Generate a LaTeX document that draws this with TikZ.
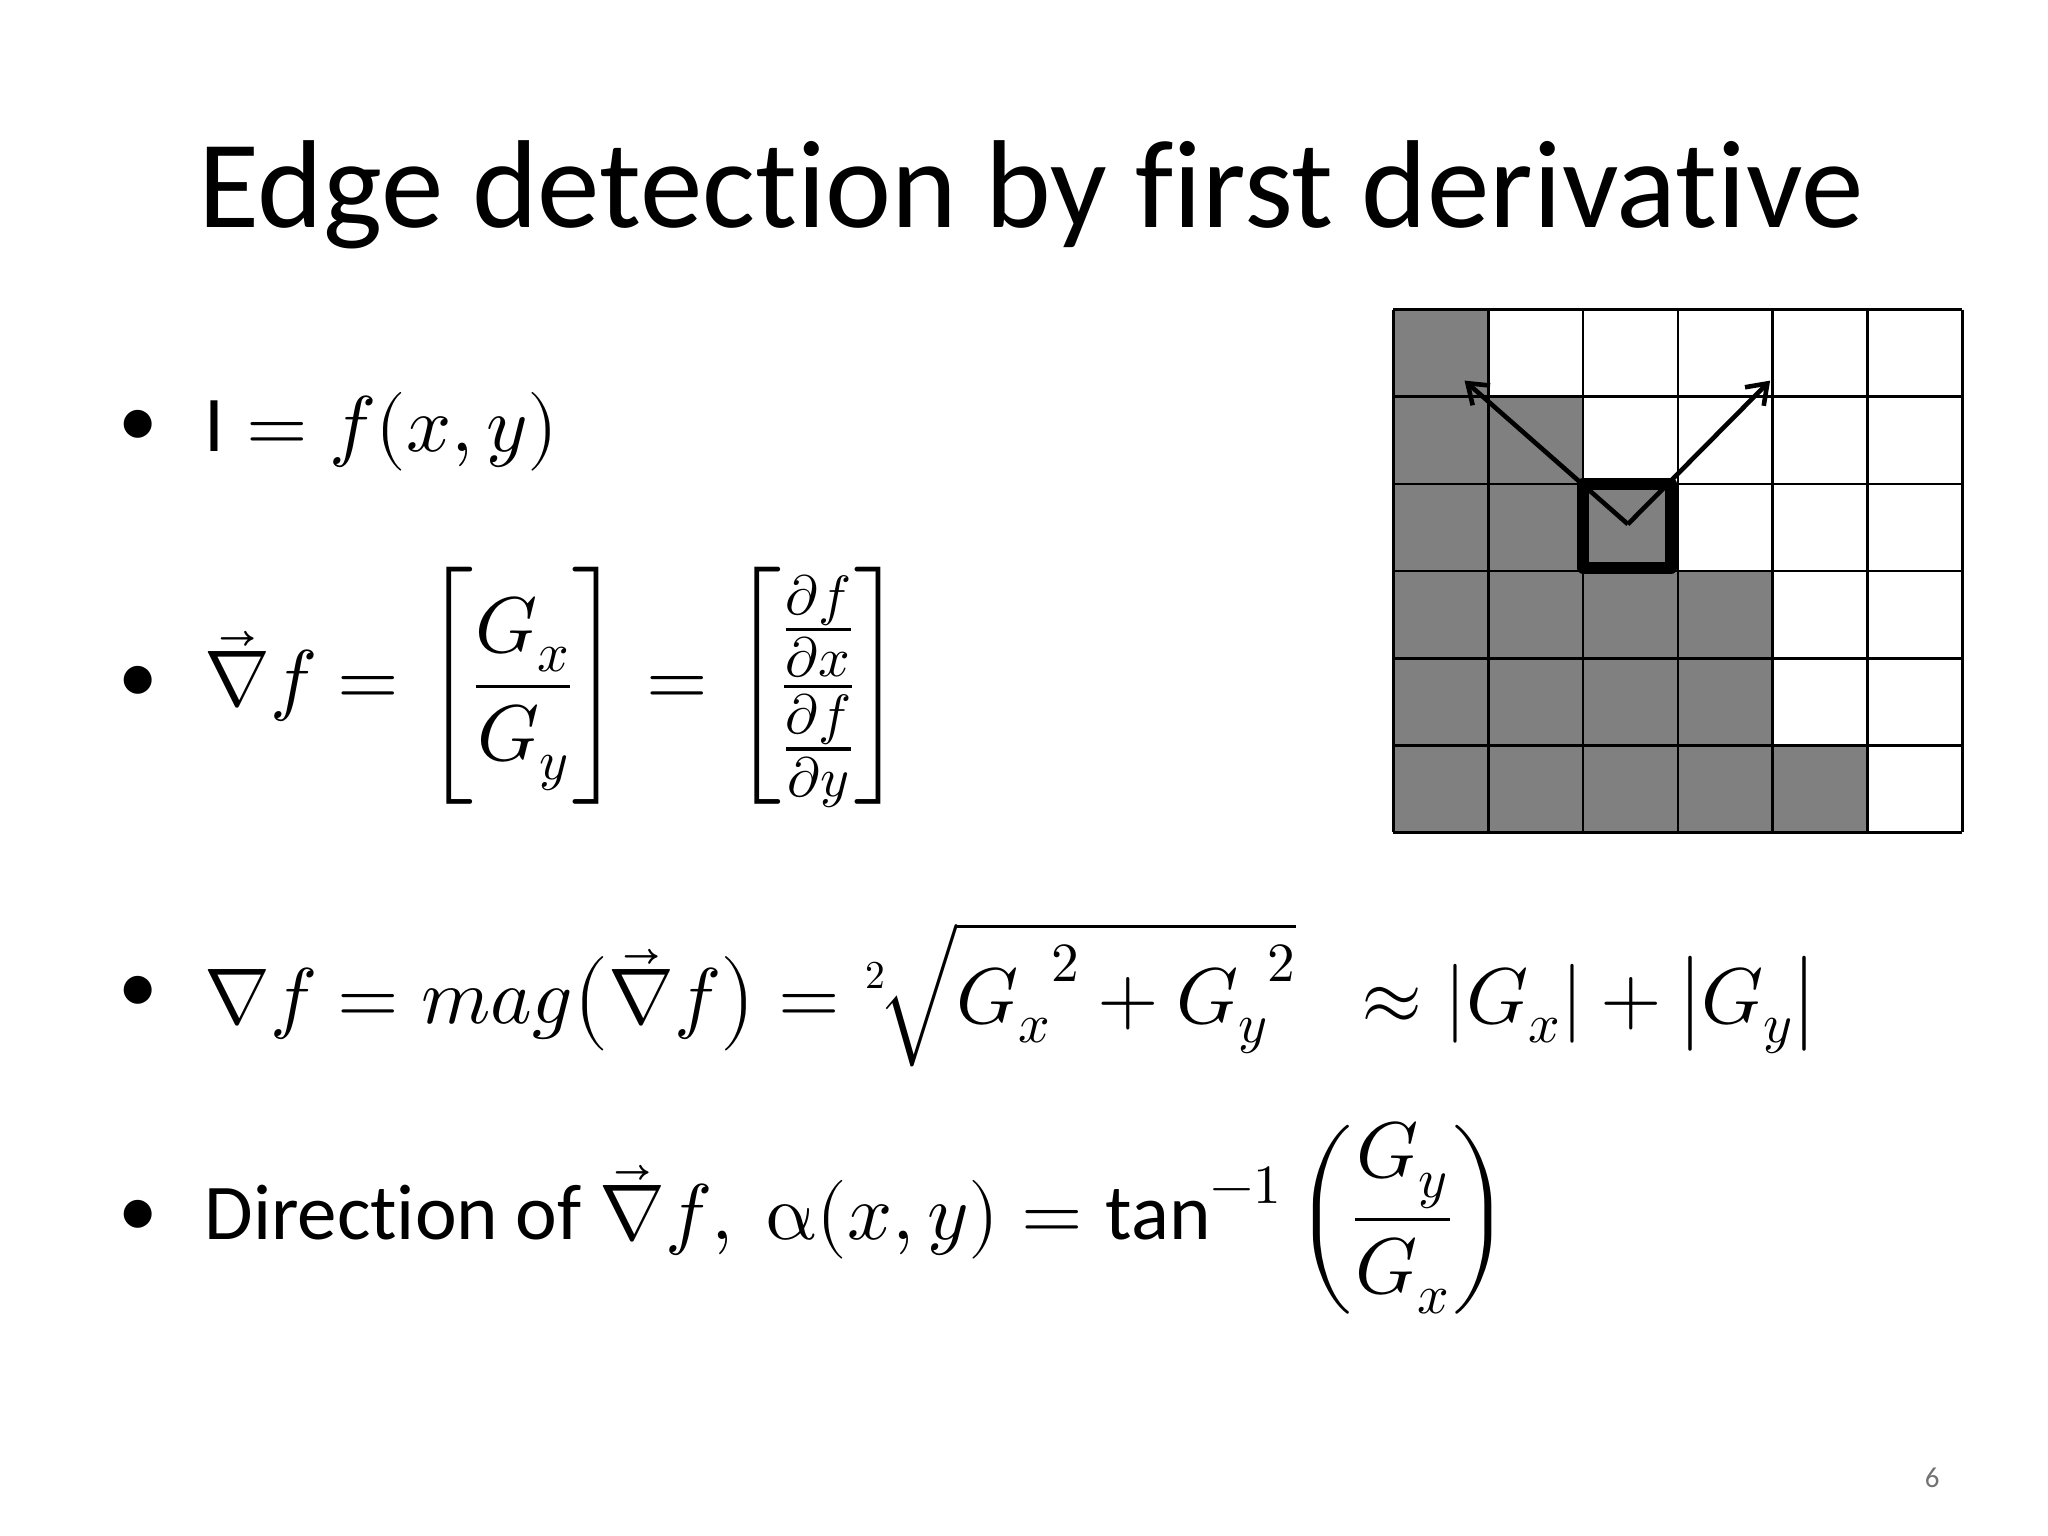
\documentclass[tikz,border=0pt]{standalone}
\usepackage{amsmath}
\usepackage{fontspec}
\usepackage{unicode-math}
\setmainfont{Carlito}[Ligatures=NoCommon]
\setmathfont{Latin Modern Math}
\usetikzlibrary{arrows.meta}
\begin{document}
\begin{tikzpicture}[x=1pt,y=-1pt,
  txt/.style={anchor=west,inner sep=0pt,font=\fontsize{60}{70}\selectfont},
  bul/.style={inner sep=0pt,font=\fontsize{60}{70}\selectfont}]
\useasboundingbox[fill=white] (0,0) rectangle (1555,1166);
\node[inner sep=0pt,font=\fontsize{95}{110}\selectfont] (title) at (783,148) {Edge detection by first derivative};
% grid
\foreach \c/\r in {0/0,0/1,1/1,0/2,1/2,2/2,0/3,1/3,2/3,3/3,0/4,1/4,2/4,3/4,0/5,1/5,2/5,3/5,4/5}
  \fill[black!50] (1058+72*\c,235+66.2*\r) rectangle ++(72,66.2);
\foreach \c in {0,...,6} \draw[line width=2pt] (1058+72*\c,235) -- (1058+72*\c,632);
\foreach \r in {0,...,6} \draw[line width=2pt] (1058,235+66.2*\r) -- (1490,235+66.2*\r);
\draw[line width=9pt,line join=round] (1202,367.4) rectangle (1269,431);
\coordinate (v) at (1236,398);
\coordinate (al) at (1112,289);
\coordinate (ar) at (1344,289);
\draw[line width=3.5pt,-{Straight Barb[length=14pt,width=20pt]}] (v) -- (al);
\draw[line width=3.5pt,-{Straight Barb[length=14pt,width=20pt]}] (v) -- (ar);
% bullets
\foreach \y/\n in {325/b1,520/b2,755/b3,925/b4} \node[bul] (\n) at (105,\y) {•};
\node[txt] (t1) at (155,328) {$\mathrm{I}=f(x,y)$};
\node[txt] (t2) at (155,522) {$\vec\nabla f=\left[\dfrac{G_x}{G_y}\right]=\left[\dfrac{\frac{\partial f}{\partial x}}{\frac{\partial f}{\partial y}}\right]$};
\node[txt] (t3) at (155,755) {$\nabla f=mag\big(\vec\nabla f\big)=\sqrt[2]{{G_x}^2+{G_y}^2}\;\;\approx|G_x|+\big|G_y\big|$};
\node[txt] (t4) at (155,925) {Direction of $\vec\nabla f,\ \upalpha(x,y)=\tan^{-1}\left(\dfrac{G_y}{G_x}\right)$};
\node[inner sep=0pt,text=black!55,font=\fontsize{22}{24}\selectfont] (pg) at (1467,1122) {6};
\end{tikzpicture}
\end{document}
